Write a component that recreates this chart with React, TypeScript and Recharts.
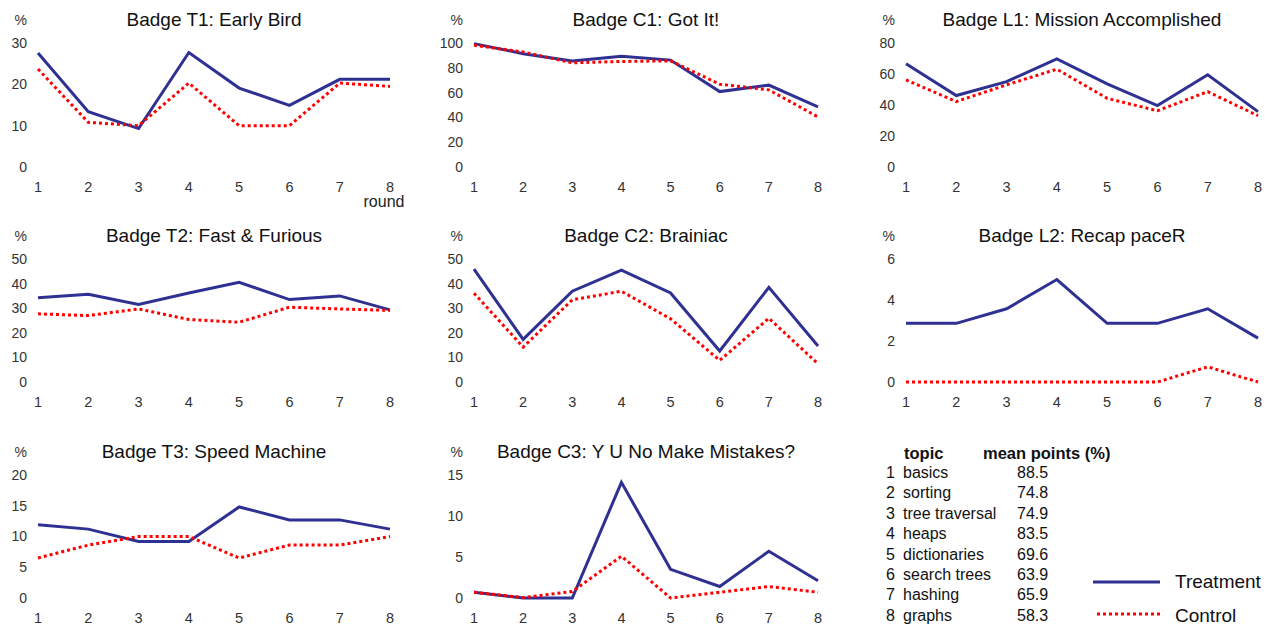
import React from 'react';
import { LineChart, Line, XAxis, YAxis } from 'recharts';

const FONT = '"Liberation Sans", Arial, Helvetica, sans-serif';
const NAVY = '#2e3192';
const RED = '#ff0000';

const rounds = [1, 2, 3, 4, 5, 6, 7, 8];

// values, % per round
const t1Treatment = [27.6, 13.4, 9.3, 27.7, 19.1, 14.9, 21.2, 21.2];
const t1Control = [23.7, 10.8, 10.0, 20.3, 10.0, 10.0, 20.3, 19.5];

const c1Treatment = [99.5, 91.4, 85.4, 89.4, 86.2, 60.8, 66.0, 48.5];
const c1Control = [98.2, 92.7, 84.0, 85.1, 85.6, 66.8, 62.2, 40.4];

const l1Treatment = [66.6, 46.1, 55.1, 69.8, 53.6, 39.6, 59.5, 35.7];
const l1Control = [56.2, 42.2, 53.0, 63.1, 44.3, 36.3, 48.6, 33.1];

const t2Treatment = [34.2, 35.7, 31.5, 36.2, 40.5, 33.5, 35.0, 29.3];
const t2Control = [27.7, 27.0, 29.7, 25.4, 24.3, 30.4, 29.7, 29.1];

const c2Treatment = [45.9, 17.3, 36.9, 45.5, 36.2, 12.6, 38.5, 14.6];
const c2Control = [36.1, 14.2, 33.4, 36.9, 25.7, 8.8, 25.9, 7.4];

const l2Treatment = [2.86, 2.86, 3.57, 5.0, 2.86, 2.86, 3.57, 2.14];
const l2Control = [0, 0, 0, 0, 0, 0, 0.74, 0];

const t3Treatment = [11.9, 11.2, 9.2, 9.2, 14.8, 12.7, 12.7, 11.2];
const t3Control = [6.5, 8.6, 10.0, 10.0, 6.5, 8.6, 8.6, 10.0];

const c3Treatment = [0.7, 0, 0, 14.1, 3.5, 1.4, 5.7, 2.1];
const c3Control = [0.7, 0.05, 0.8, 5.1, 0, 0.7, 1.4, 0.7];

const topicNames = ['basics', 'sorting', 'tree traversal', 'heaps', 'dictionaries', 'search trees', 'hashing', 'graphs'];
const meanPoints = ['88.5', '74.8', '74.9', '83.5', '69.6', '63.9', '65.9', '58.3'];

// plot box edges per grid column / row
const colLeft = [38, 474, 906];
const colRight = [390, 818, 1258];
const rowTop = [43, 259, 475];
const rowBottom = [167, 382, 598];

const panels = [
  { title: 'Badge T1: Early Bird', treatment: t1Treatment, control: t1Control, yTicks: [0, 10, 20, 30], col: 0, row: 0 },
  { title: 'Badge C1: Got It!', treatment: c1Treatment, control: c1Control, yTicks: [0, 20, 40, 60, 80, 100], col: 1, row: 0 },
  { title: 'Badge L1: Mission Accomplished', treatment: l1Treatment, control: l1Control, yTicks: [0, 20, 40, 60, 80], col: 2, row: 0 },
  { title: 'Badge T2: Fast & Furious', treatment: t2Treatment, control: t2Control, yTicks: [0, 10, 20, 30, 40, 50], col: 0, row: 1 },
  { title: 'Badge C2: Brainiac', treatment: c2Treatment, control: c2Control, yTicks: [0, 10, 20, 30, 40, 50], col: 1, row: 1 },
  { title: 'Badge L2: Recap paceR', treatment: l2Treatment, control: l2Control, yTicks: [0, 2, 4, 6], col: 2, row: 1 },
  { title: 'Badge T3: Speed Machine', treatment: t3Treatment, control: t3Control, yTicks: [0, 5, 10, 15, 20], col: 0, row: 2 },
  { title: 'Badge C3: Y U No Make Mistakes?', treatment: c3Treatment, control: c3Control, yTicks: [0, 5, 10, 15], col: 1, row: 2 },
];

const Panel = ({ title, treatment, control, yTicks, col, row }: any) => {
  const left = colLeft[col];
  const top = rowTop[row];
  const plotW = colRight[col] - left;
  const plotH = rowBottom[row] - top;
  const data = rounds.map((r, i) => ({ round: r, treatment: treatment[i], control: control[i] }));

  return (
    <>
      <div style={{ position: 'absolute', left, width: plotW, top: top - 34, textAlign: 'center', fontSize: 19, lineHeight: '22px', color: '#111' }}>
        {title}
      </div>
      <div style={{ position: 'absolute', left: left - 51, width: 40, top: top - 31, textAlign: 'right', fontSize: 14, lineHeight: '16px', color: '#333' }}>
        %
      </div>
      <div style={{ position: 'absolute', left: left - 40, top: top - 10 }}>
        <LineChart width={plotW + 50} height={plotH + 40} data={data} margin={{ top: 10, right: 10, bottom: 0, left: 0 }}>
          <XAxis
            dataKey="round"
            type="number"
            domain={[1, 8]}
            ticks={rounds}
            interval={0}
            axisLine={false}
            tickLine={false}
            tickSize={0}
            tickMargin={15}
            height={30}
            tick={{ fontSize: 14.5, fill: '#333', fontFamily: FONT }}
          />
          <YAxis
            type="number"
            domain={[0, yTicks[yTicks.length - 1]]}
            ticks={yTicks}
            interval={0}
            axisLine={false}
            tickLine={false}
            tickSize={0}
            tickMargin={11}
            width={40}
            tick={{ fontSize: 14, fill: '#333', fontFamily: FONT }}
          />
          <Line type="linear" dataKey="treatment" stroke={NAVY} strokeWidth={3} dot={false} isAnimationActive={false} />
          <Line type="linear" dataKey="control" stroke={RED} strokeWidth={3} strokeDasharray="3 3" dot={false} isAnimationActive={false} />
        </LineChart>
      </div>
    </>
  );
};

export default function App() {
  return (
    <div style={{ position: 'absolute', left: 0, top: 0, width: 1271, height: 626, background: '#fff', fontFamily: FONT, overflow: 'hidden' }}>
      {panels.map((p) => (
        <Panel key={p.title} {...p} />
      ))}

      <div style={{ position: 'absolute', left: 340, width: 88, top: 193, textAlign: 'center', fontSize: 16, lineHeight: '18px', color: '#222' }}>
        round
      </div>

      {/* topic table */}
      <div style={{ position: 'absolute', left: 904, top: 444, fontSize: 16.5, lineHeight: '18px', fontWeight: 'bold', color: '#111' }}>topic</div>
      <div style={{ position: 'absolute', left: 983, top: 444, fontSize: 16.5, lineHeight: '18px', fontWeight: 'bold', color: '#111' }}>mean points (%)</div>
      {topicNames.map((name, i) => (
        <React.Fragment key={name}>
          <div style={{ position: 'absolute', left: 886, top: 464 + i * 20.4, fontSize: 16, lineHeight: '18px', color: '#111' }}>{i + 1}</div>
          <div style={{ position: 'absolute', left: 903, top: 464 + i * 20.4, fontSize: 16, lineHeight: '18px', color: '#111' }}>{name}</div>
          <div style={{ position: 'absolute', left: 1017, top: 464 + i * 20.4, fontSize: 16, lineHeight: '18px', color: '#111' }}>{meanPoints[i]}</div>
        </React.Fragment>
      ))}

      {/* legend */}
      <svg style={{ position: 'absolute', left: 1090, top: 570 }} width={75} height={56}>
        <line x1={3} x2={70} y1={12} y2={12} stroke={NAVY} strokeWidth={3} />
        <line x1={7} x2={70} y1={44} y2={44} stroke={RED} strokeWidth={3} strokeDasharray="3 3" />
      </svg>
      <div style={{ position: 'absolute', left: 1175, top: 571, fontSize: 19, lineHeight: '22px', color: '#111' }}>Treatment</div>
      <div style={{ position: 'absolute', left: 1175, top: 605, fontSize: 19, lineHeight: '22px', color: '#111' }}>Control</div>
    </div>
  );
}
